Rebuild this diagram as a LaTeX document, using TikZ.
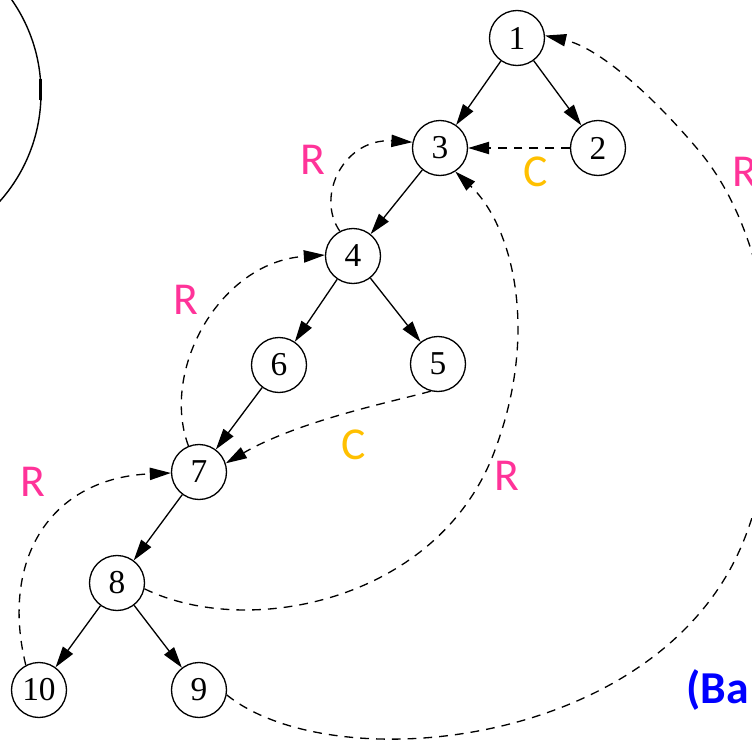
\documentclass[tikz,border=0pt]{standalone}
\usepackage{fontspec}
\setmainfont{Liberation Serif}
\newfontfamily\labfont{Carlito}
\usetikzlibrary{arrows.meta}
\definecolor{rpink}{HTML}{FF3399}
\definecolor{corange}{HTML}{FFC000}
\definecolor{bblue}{HTML}{0000FF}
\begin{document}
\begin{tikzpicture}[x=0.02cm,y=-0.02cm,
  vert/.style={circle,draw,line width=0.75pt,minimum size=1.1cm,inner sep=0pt,font=\fontsize{19}{20}\selectfont},
  tree/.style={line width=0.75pt,-{Triangle[length=12pt,width=7pt]}},
  back/.style={line width=0.75pt,dash pattern=on 5pt off 4pt,-{Triangle[length=12pt,width=7pt]}},
  lbl/.style={font=\labfont\fontsize{26}{28}\selectfont,inner sep=0pt}]
\useasboundingbox (0,0) rectangle (752,741);
\clip (0,0) rectangle (752,741);
% big partial circle at top left
\draw[line width=0.8pt] (-122,93) circle (163);
\draw[line width=2pt] (40.5,79) -- (40.5,100);
% vertices
\node[vert] (n1) at (517,38) {1};
\node[vert] (n2) at (598,148) {2};
\node[vert] (n3) at (440,148) {3};
\node[vert] (n4) at (353,256) {4};
\node[vert] (n6) at (279,365) {6};
\node[vert] (n5) at (438,364) {5};
\node[vert] (n7) at (199,472) {7};
\node[vert] (n8) at (117,583) {8};
\node[vert] (n10) at (39,690) {10};
\node[vert] (n9) at (199,690) {9};
% tree edges
\draw[tree] (n1) -- (n3);
\draw[tree] (n1) -- (n2);
\draw[tree] (n3) -- (n4);
\draw[tree] (n4) -- (n6);
\draw[tree] (n4) -- (n5);
\draw[tree] (n6) -- (n7);
\draw[tree] (n7) -- (n8);
\draw[tree] (n8) -- (n10);
\draw[tree] (n8) -- (n9);
% back / cross edges
\draw[back] (n2.west) -- (n3.east);
\draw[back] (n4.118) .. controls (315,195) and (345,138) .. (n3.168);
\draw[back] (n7.112) .. controls (160,370) and (220,262) .. (n4.178);
\draw[back] (n5.255) .. controls (400,400) and (300,420) .. (n7.18);
\draw[back] (n10.118) .. controls (0,560) and (50,478) .. (n7.182);
\draw[back] (n8.-12) .. controls (250,640) and (440,600) .. (495,450)
  .. controls (540,330) and (512,225) .. (n3.-57);
\draw[back] (n9.-10) .. controls (330,778) and (640,750) .. (735,560)
  .. controls (790,450) and (785,255) .. (700,152)
  .. controls (655,98) and (600,48) .. (n1.5);
% labels
\node[lbl,text=rpink] (lr1) at (313,160) {R};
\node[lbl,text=corange] (lc1) at (536,172) {C};
\node[lbl,text=rpink] (lr2) at (745,172) {R};
\node[lbl,text=rpink] (lr3) at (186,300) {R};
\node[lbl,text=corange] (lc2) at (354,445) {C};
\node[lbl,text=rpink] (lr4) at (33,482) {R};
\node[lbl,text=rpink] (lr5) at (507,476) {R};
\node[lbl,text=bblue,font=\labfont\bfseries\fontsize{26}{28}\selectfont,anchor=west] (ba) at (686,690) {(Ba};
\end{tikzpicture}
\end{document}
